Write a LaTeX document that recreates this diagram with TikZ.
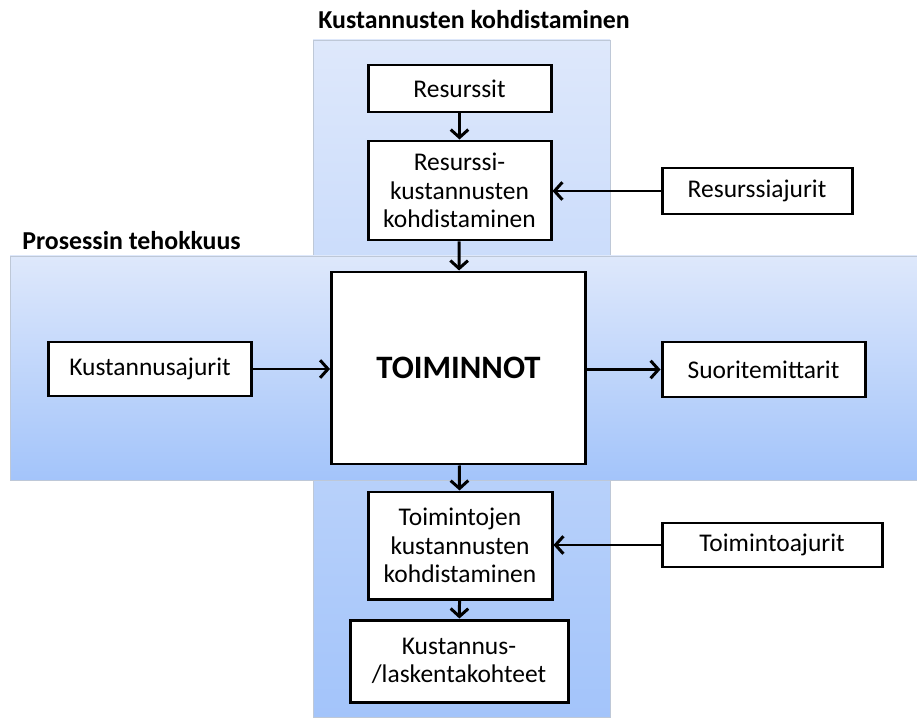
\documentclass[tikz,border=0pt]{standalone}
\usepackage{fontspec}
\setmainfont{Carlito}
\usetikzlibrary{arrows.meta}

\definecolor{bandtop}{RGB}{222,232,251}
\definecolor{bandbot}{RGB}{163,196,250}
\definecolor{bandline}{RGB}{190,200,215}

\begin{document}
\begin{tikzpicture}[
  box/.style={draw=black, line width=1.7pt, fill=white, inner sep=0pt, align=center,
    font=\fontsize{14.5}{16.2}\selectfont},
  arr/.style={line width=1.7pt, -{Straight Barb[length=4.5pt,width=10pt,line width=1.7pt]}},
  band/.style={draw=bandline, line width=0.5pt, top color=bandtop, bottom color=bandbot},
  heading/.style={font=\fontsize{14.7}{17}\selectfont\bfseries, inner sep=0pt}
]

\useasboundingbox (0,0) rectangle (18.34,14.34);

\path[band] (6.26,0) rectangle (12.20,13.54);
\path[band] (0.2,4.74) rectangle (18.34,9.22);

\node[heading, anchor=west] (kohd) at (6.36,13.94) {Kustannusten kohdistaminen};
\node[heading, anchor=west] (teho) at (0.44,9.52) {Prosessin tehokkuus};

\node[box, minimum width=3.66cm, minimum height=0.94cm] (res) at (9.19,12.57) {Resurssit};
\node[box, minimum width=3.66cm, minimum height=1.98cm] (reskoh) at (9.19,10.53) {Resurssi-\\kustannusten\\kohdistaminen};
\node[box, minimum width=3.80cm, minimum height=0.92cm] (resaj) at (15.14,10.52) {Resurssiajurit};
\node[box, minimum width=5.08cm, minimum height=3.84cm, font=\fontsize{18.6}{22}\selectfont\bfseries] (toim) at (9.17,6.98) {TOIMINNOT};
\node[box, minimum width=4.06cm, minimum height=1.08cm] (kustaj) at (3.00,6.96) {Kustannusajurit};
\node[box, minimum width=4.06cm, minimum height=1.10cm] (suor) at (15.27,6.95) {Suoritemittarit};
\node[box, minimum width=3.68cm, minimum height=2.14cm] (toimkoh) at (9.20,3.43) {Toimintojen\\kustannusten\\kohdistaminen};
\node[box, minimum width=4.40cm, minimum height=0.88cm] (toimaj) at (15.44,3.44) {Toimintoajurit};
\node[box, minimum width=4.36cm, minimum height=1.64cm] (kohteet) at (9.18,1.12) {Kustannus-\\/laskentakohteet};

\draw[arr] (res) -- (reskoh);
\draw[arr] (resaj) -- (resaj -| reskoh.east);
\draw[arr] (reskoh) -- (toim);
\draw[arr] (kustaj) -- (kustaj -| toim.west);
\draw[arr] (toim.east |- suor) -- (suor);
\draw[arr] (toim) -- (toimkoh);
\draw[arr] (toimaj) -- (toimaj -| toimkoh.east);
\draw[arr] (toimkoh) -- (kohteet);

\end{tikzpicture}
\end{document}
